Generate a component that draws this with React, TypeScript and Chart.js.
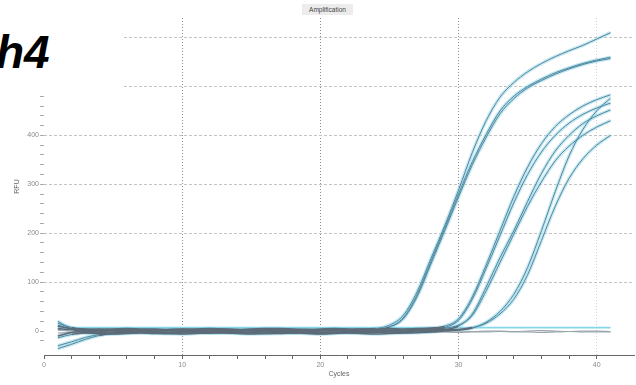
import React, { useEffect, useRef } from "react";
import { Chart, registerables } from "chart.js";

Chart.register(...registerables);

// ---- data -------------------------------------------------------------
const cycles = [1, 2, 3, 4, 5, 6, 7, 8, 9, 10, 11, 12, 13, 14, 15, 16, 17, 18, 19, 20, 21, 22, 23, 24, 25, 26, 27, 28, 29, 30, 31, 32, 33, 34, 35, 36, 37, 38, 39, 40, 41];

const wellA = [16, 7, 3, 1, 2, 3, 2, 1, 3, 4, 3, 2, 1, 2, 3, 2, 1, 2, 3, 2, 3, 3, 4, 5, 12, 32, 80, 148, 215, 288, 365, 430, 478, 508, 530, 547, 561, 573, 584, 597, 610];
const wellB = [-36, -27, -17, -9, -5, -4, -3, -4, -5, -4, -3, -4, -2, -3, -4, -5, -4, -3, -4, -5, -4, -3, -2, 0, 8, 27, 74, 142, 210, 280, 346, 402, 450, 480, 500, 515, 528, 538, 547, 554, 560];
const wellC = [-10, -3, -1, 0, 1, 0, -1, 0, 1, 0, -1, -2, -1, 0, 1, 0, 0, -1, 0, 1, 0, 0, 1, 2, 8, 25, 70, 137, 205, 274, 340, 396, 444, 475, 497, 512, 525, 536, 545, 552, 557];
const wellD = [10, 5, 4, 3, 4, 5, 4, 3, 2, 3, 4, 5, 4, 3, 4, 5, 5, 4, 3, 4, 5, 4, 3, 4, 5, 4, 5, 6, 10, 25, 70, 135, 205, 275, 335, 383, 418, 442, 460, 473, 483];
const wellE = [-14, -7, -4, -3, -2, -1, -1, -2, -3, -2, -1, -2, -3, -3, -2, -1, -2, -2, -1, -2, -3, -2, -1, -2, -2, -1, 0, 1, 7, 22, 65, 128, 195, 262, 320, 366, 400, 425, 443, 456, 466];
const wellF = [20, 4, -3, -5, -6, -5, -4, -5, -5, -6, -5, -4, -4, -5, -6, -5, -5, -4, -5, -6, -5, -4, -5, -6, -5, -4, -3, -1, 3, 10, 35, 90, 150, 205, 265, 322, 368, 400, 424, 440, 452];
const wellG = [5, 3, 3, 4, 3, 2, 3, 4, 3, 3, 2, 3, 4, 3, 2, 3, 4, 3, 3, 2, 3, 3, 4, 3, 2, 3, 4, 4, 6, 12, 32, 82, 140, 198, 255, 305, 348, 378, 400, 417, 430];
const wellH = [-30, -22, -13, -7, -4, -3, -2, -3, -4, -3, -2, -3, -3, -4, -3, -2, -3, -4, -3, -3, -2, -3, -4, -3, -2, -3, -3, -2, 0, 2, 6, 18, 40, 75, 130, 205, 285, 358, 412, 450, 476];
const wellI = [12, 4, 1, 0, 1, 1, 2, 1, 0, 1, 1, 2, 1, 0, 1, 2, 1, 1, 0, 1, 2, 1, 1, 0, 1, 2, 1, 2, 2, 3, 7, 16, 35, 65, 115, 185, 255, 312, 352, 380, 400];
const ntc1 = [2, 0, -1, 0, 1, 0, -1, 0, 0, 1, 0, -1, 0, 1, 0, 0, -1, 0, 1, 0, 0, -1, 0, 1, 0, -1, 0, 0, 1, 0, -1, 0, 0, -1, 0, 1, 0, -1, 0, 0, -1];
const ntc2 = [-4, -3, -2, -2, -1, -2, -3, -2, -1, -2, -2, -1, -3, -2, -2, -1, -2, -3, -2, -1, -2, -2, -3, -2, -1, -2, -2, -1, -2, -3, -2, -2, -1, -2, -2, -3, -2, -1, -2, -2, -2];

const amplifiedWells = [wellA, wellB, wellC, wellD, wellE, wellF, wellG, wellH, wellI];
const flatWells = [ntc1, ntc2];

const thresholdRFU = 7;
const thresholdCycles = [1, 41];

const xMajorTicks = [0, 10, 20, 30, 40];
const yMajorTicks = [0, 100, 200, 300, 400, 500, 600];

// ---- styles -----------------------------------------------------------
const CORE = "#52869c";
const BASE = "#5d6b78";
const HALO = "rgba(150,214,232,0.55)";
const FLAT = "#9aa5ac";
const THRESH = "#86d6ea";
const FONT = "'Liberation Sans', Arial, sans-serif";

const isMult = (v: number, m: number) => Math.abs(v / m - Math.round(v / m)) < 1e-6;

export default function App() {
  const ref = useRef<HTMLCanvasElement | null>(null);

  useEffect(() => {
    if (!ref.current) return;
    const toPts = (vals: number[]) => vals.map((v, i) => ({ x: cycles[i], y: v }));
    const datasets: any[] = [];
    amplifiedWells.forEach((vals) => {
      datasets.push({
        data: toPts(vals),
        borderColor: HALO,
        borderWidth: 3.5,
        pointRadius: 0,
        cubicInterpolationMode: "monotone",
        order: 3,
      });
      datasets.push({
        data: toPts(vals),
        borderColor: CORE,
        borderWidth: 1,
        pointRadius: 0,
        cubicInterpolationMode: "monotone",
        order: 1,
        segment: {
          borderColor: (ctx: any) =>
            Math.abs(ctx.p0.parsed.y) < 12 && Math.abs(ctx.p1.parsed.y) < 12 ? BASE : CORE,
          borderWidth: (ctx: any) =>
            Math.abs(ctx.p0.parsed.y) < 12 && Math.abs(ctx.p1.parsed.y) < 12 ? 1.6 : 1,
        },
      });
    });
    flatWells.forEach((vals) => {
      datasets.push({
        data: toPts(vals),
        borderColor: FLAT,
        borderWidth: 1.2,
        pointRadius: 0,
        cubicInterpolationMode: "monotone",
        order: 2,
      });
    });
    datasets.push({
      data: thresholdCycles.map((c) => ({ x: c, y: thresholdRFU })),
      borderColor: THRESH,
      borderWidth: 1.8,
      pointRadius: 0,
      order: 2,
    });

    const chart = new Chart(ref.current, {
      type: "line",
      data: { datasets },
      options: {
        animation: false,
        responsive: true,
        maintainAspectRatio: false,
        layout: { padding: { top: 18, right: 0, left: 0, bottom: 0 } },
        plugins: { legend: { display: false }, tooltip: { enabled: false }, title: { display: false } },
        scales: {
          x: {
            type: "linear",
            min: 0,
            max: 42.7,
            afterFit: (s: any) => {
              s.height = 30;
            },
            ticks: {
              stepSize: 2,
              autoSkip: false,
              maxRotation: 0,
              padding: 2,
              color: "#8a8a8a",
              font: { size: 7, family: FONT },
              callback: (v: any) => (xMajorTicks.includes(Number(v)) ? String(v) : ""),
            },
            grid: {
              color: (ctx: any) => {
                const v = ctx.tick ? ctx.tick.value : 0;
                if (v === 40) return "#d2d2d2";
                return xMajorTicks.includes(v) && v !== 0 ? "#8c8c8c" : "rgba(0,0,0,0)";
              },
              tickColor: (ctx: any) => {
                const v = ctx.tick ? ctx.tick.value : 0.5;
                return isMult(v, 2) ? "#666" : "rgba(0,0,0,0)";
              },
              tickLength: 4,
              lineWidth: 1,
            },
            border: { display: true, color: "#666", width: 1, dash: [1, 2] },
            title: {
              display: true,
              text: "Cycles",
              color: "#666",
              font: { size: 7, family: FONT },
              padding: { top: 0, bottom: 7 },
            },
          },
          y: {
            min: -49,
            max: 640,
            afterFit: (s: any) => {
              s.width = 44;
            },
            ticks: {
              stepSize: 20,
              autoSkip: false,
              padding: 1,
              color: "#8a8a8a",
              font: { size: 7, family: FONT },
              callback: (v: any) => (yMajorTicks.includes(Number(v)) ? String(v) : ""),
            },
            grid: {
              color: (ctx: any) => {
                const v = ctx.tick ? ctx.tick.value : 1;
                return yMajorTicks.includes(v) && v !== 0 ? "#c4c4c4" : "rgba(0,0,0,0)";
              },
              tickColor: (ctx: any) => {
                const v = ctx.tick ? ctx.tick.value : 1;
                return isMult(v, 20) ? "#aaa" : "rgba(0,0,0,0)";
              },
              tickLength: 4,
              lineWidth: 1,
            },
            border: { display: false, dash: [3, 2] },
            title: {
              display: true,
              text: "RFU",
              color: "#666",
              font: { size: 7, family: FONT },
              padding: { top: 13, bottom: 0 },
            },
          },
        },
      },
    } as any);
    return () => chart.destroy();
  }, []);

  return (
    <div
      style={{
        position: "fixed",
        left: 0,
        top: 0,
        width: 636,
        height: 385,
        background: "#ffffff",
        overflow: "hidden",
      }}
    >
      <canvas ref={ref} />
      <div
        style={{
          position: "absolute",
          left: 302,
          top: 4,
          width: 51,
          height: 11,
          background: "#ececec",
          color: "#444",
          fontFamily: FONT,
          fontSize: 6.5,
          lineHeight: "11px",
          textAlign: "center",
        }}
      >
        Amplification
      </div>
      <div
        style={{
          position: "absolute",
          left: 0,
          top: 0,
          width: 123,
          height: 91,
          background: "#ffffff",
        }}
      >
        <span
          style={{
            position: "absolute",
            left: -4,
            top: 29,
            fontFamily: FONT,
            fontWeight: "bold",
            fontStyle: "italic",
            fontSize: 46,
            lineHeight: "46px",
            color: "#000",
            whiteSpace: "nowrap",
          }}
        >
          h4
        </span>
      </div>
    </div>
  );
}
